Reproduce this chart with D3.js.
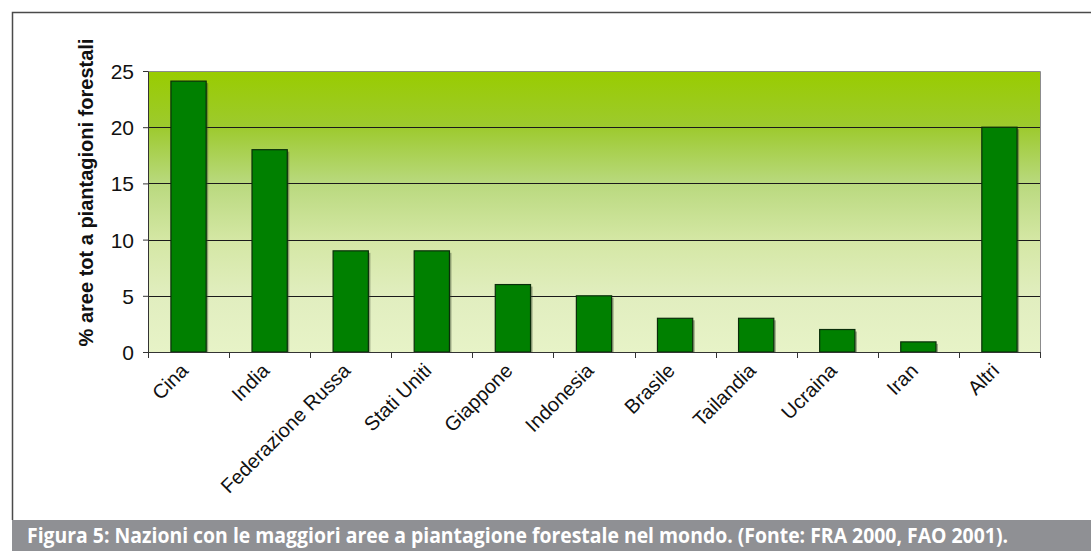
<!DOCTYPE html>
<html>
<head>
<meta charset="utf-8">
<script src="https://cdn.jsdelivr.net/npm/d3@7"></script>
<style>
  html, body { margin: 0; padding: 0; background: #fff; }
  svg { display: block; }
</style>
</head>
<body>
<svg id="chart" width="1091" height="551"></svg>
<script>
// Paesi con le maggiori aree a piantagione forestale (% del totale mondiale)
const categories = ["Cina", "India", "Federazione Russa", "Stati Uniti", "Giappone",
  "Indonesia", "Brasile", "Tailandia", "Ucraina", "Iran", "Altri"];
const values = [24.1, 18, 9, 9, 6, 5, 3, 3, 2, 0.9, 20];
const yTicks = [0, 5, 10, 15, 20, 25];
const yTitle = "% aree tot a piantagioni forestali";
const caption = "Figura 5: Nazioni con le maggiori aree a piantagione forestale nel mondo. (Fonte: FRA 2000, FAO 2001).";

const svg = d3.select("#chart");
const W = 1091, H = 551;
const plot = { left: 148, right: 1040, top: 71, bottom: 352 };

const x = d3.scaleBand().domain(categories).range([plot.left, plot.right]).paddingInner(0).paddingOuter(0);
const y = d3.scaleLinear().domain([0, 25]).range([plot.bottom, plot.top]);

// Background gradient of the plot area
const defs = svg.append("defs");
const grad = defs.append("linearGradient").attr("id", "bg").attr("x1", 0).attr("y1", 0).attr("x2", 0).attr("y2", 1);
[[0, "#99cc00"], [0.2, "#9dca2e"], [0.4, "#b9d97e"], [0.6, "#d4e7a4"], [0.8, "#e1eebf"], [1, "#e7f3c7"]]
  .forEach(([o, c]) => grad.append("stop").attr("offset", o).attr("stop-color", c));

// Outer frame
svg.append("path")
  .attr("d", `M12.5,520 L12.5,12.5 L${W + 2},12.5`)
  .attr("fill", "none").attr("stroke", "#4a4a4a").attr("stroke-width", 1.5);

// Plot area
svg.append("rect")
  .attr("x", plot.left).attr("y", plot.top)
  .attr("width", plot.right - plot.left).attr("height", plot.bottom - plot.top)
  .attr("fill", "url(#bg)");
svg.append("path")
  .attr("d", `M${plot.left},${plot.top + 0.5} L${plot.right + 0.5},${plot.top + 0.5} L${plot.right + 0.5},${plot.bottom}`)
  .attr("fill", "none").attr("stroke", "#8c8c8c").attr("stroke-width", 1);

// Gridlines
svg.append("g").selectAll("line")
  .data(yTicks.filter(t => t > 0 && t < 25))
  .join("line")
  .attr("x1", plot.left).attr("x2", plot.right)
  .attr("y1", d => Math.round(y(d)) + 0.5).attr("y2", d => Math.round(y(d)) + 0.5)
  .attr("stroke", "#1a1a1a").attr("stroke-width", 1);

// Bars with a light shadow
const bw = x.bandwidth() / 2.3;
const bars = svg.append("g");
bars.selectAll("rect.shadow")
  .data(values)
  .join("rect")
  .attr("class", "shadow")
  .attr("x", (d, i) => x(categories[i]) + (x.bandwidth() - bw) / 2 + 2)
  .attr("y", d => y(d) + 2)
  .attr("width", bw)
  .attr("height", d => plot.bottom - y(d) - 2)
  .attr("fill", "#3c4a30").attr("opacity", 0.45);
bars.selectAll("rect.bar")
  .data(values)
  .join("rect")
  .attr("class", "bar")
  .attr("x", (d, i) => x(categories[i]) + (x.bandwidth() - bw) / 2)
  .attr("y", d => y(d))
  .attr("width", bw)
  .attr("height", d => plot.bottom - y(d))
  .attr("fill", "#008000").attr("stroke", "#0a2e0a").attr("stroke-width", 1.2);

// Y axis
const yAxis = d3.axisLeft(y).tickValues(yTicks).tickSize(5).tickPadding(9).tickSizeOuter(0);
const gy = svg.append("g").attr("transform", `translate(${plot.left},0)`).call(yAxis);
gy.select(".domain").attr("stroke", "#333");
gy.selectAll(".tick line").attr("stroke", "#333");
gy.selectAll(".tick text")
  .attr("font-family", "Arial, 'Liberation Sans', sans-serif")
  .attr("font-size", 21).attr("fill", "#111").attr("dy", "0.36em");

// X axis: ticks on category boundaries
svg.append("line")
  .attr("x1", plot.left).attr("x2", plot.right + 0.5)
  .attr("y1", plot.bottom + 0.5).attr("y2", plot.bottom + 0.5)
  .attr("stroke", "#333");
const bounds = categories.map(c => x(c)).concat([plot.right]);
svg.append("g").selectAll("line")
  .data(bounds)
  .join("line")
  .attr("x1", d => Math.round(d) + 0.5).attr("x2", d => Math.round(d) + 0.5)
  .attr("y1", plot.bottom).attr("y2", plot.bottom + 6)
  .attr("stroke", "#333");

svg.append("g").selectAll("text")
  .data(categories)
  .join("text")
  .attr("transform", d => `translate(${x(d) + x.bandwidth() / 2 - 4},${plot.bottom + 15}) rotate(-45)`)
  .attr("text-anchor", "end")
  .attr("dy", "0.35em")
  .attr("font-family", "Arial, 'Liberation Sans', sans-serif")
  .attr("font-size", 20).attr("fill", "#111")
  .text(d => d);

// Y axis title
svg.append("text")
  .attr("transform", `translate(93,${(42 + 343) / 2}) rotate(-90)`)
  .attr("text-anchor", "middle")
  .attr("font-family", "Arial, 'Liberation Sans', sans-serif")
  .attr("font-weight", "bold")
  .attr("font-size", 20).attr("fill", "#111")
  .text(yTitle);

// Caption bar
svg.append("rect")
  .attr("x", 12).attr("y", 520).attr("width", W - 12).attr("height", H - 520)
  .attr("fill", "#8f9094");
svg.append("text")
  .attr("x", 27).attr("y", 543)
  .attr("font-family", "'Liberation Sans Narrow', 'Open Sans', sans-serif")
  .attr("font-weight", "bold")
  .attr("font-size", 21).attr("fill", "#fff")
  .attr("textLength", 981).attr("lengthAdjust", "spacingAndGlyphs")
  .text(caption);
</script>
</body>
</html>
